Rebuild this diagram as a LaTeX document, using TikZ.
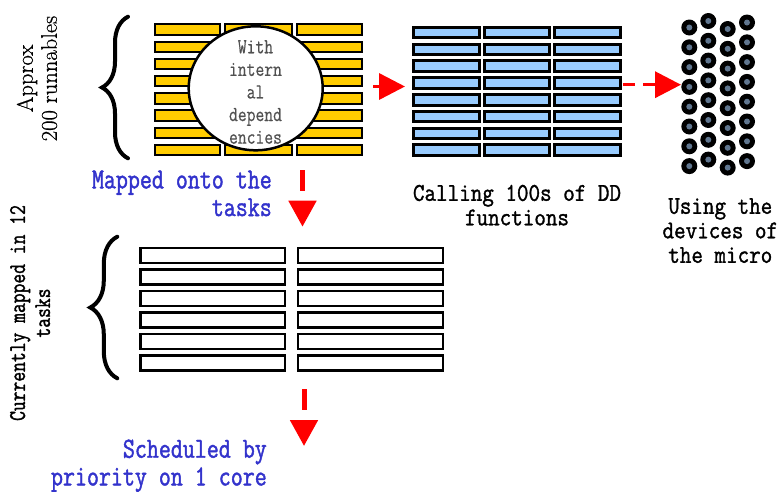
\documentclass[tikz,border=0pt]{standalone}
\usepackage{fontspec}
\usetikzlibrary{arrows.meta,shapes.geometric,decorations.pathreplacing}
\newfontfamily\monofont{Latin Modern Mono}[FakeBold=1.4,FakeStretch=0.8]
\newfontfamily\captionmono{Latin Modern Mono}[FakeBold=1.3,FakeStretch=0.88]
\newfontfamily\lightmono{Latin Modern Mono}[FakeBold=0.5,FakeStretch=0.8]
\newfontfamily\sidefont{Latin Modern Roman}[FakeBold=0.6]

\definecolor{arrowred}{RGB}{255,0,0}
\definecolor{labelblue}{RGB}{51,51,204}
\definecolor{baryellow}{RGB}{255,204,0}
\definecolor{barblue}{RGB}{153,204,255}
\definecolor{dotcore}{RGB}{96,118,143}
\definecolor{deptext}{RGB}{80,80,80}

\begin{document}
\begin{tikzpicture}[x=1pt,y=-1pt,
  yellowbar/.style={draw=black,line width=2pt,fill=baryellow},
  bluebar/.style={draw=black,line width=3pt,fill=barblue},
  taskbar/.style={draw=black,line width=2.5pt,fill=white},
  grp/.style={inner sep=0pt,outer sep=0pt,draw=none},
  bracestyle/.style={line width=4pt,line cap=round,decorate,decoration={brace,amplitude=#1}},
  dashright/.style={draw=arrowred,line width=3.5pt,dash pattern=on 12pt off 8pt,
    -{Triangle[length=26pt,width=26pt]}},
  dashdown/.style={draw=arrowred,line width=5pt,dash pattern=on 21pt off 10pt,
    -{Triangle[length=26pt,width=27pt]}},
  blacklabel/.style={font={\captionmono\fontsize{25.5}{24.5}\selectfont},align=center,inner sep=0pt},
  bluelabel/.style={font={\monofont\fontsize{29.1}{27.7}\selectfont},text=labelblue,align=right,inner sep=0pt},
  sidelabel/.style={rotate=90,align=center,inner sep=0pt}]

\useasboundingbox (0,0) rectangle (779,491);
\fill[white] (0,0) rectangle (779,491);

% runnables: 8 rows x 3 columns of yellow bars
\foreach \xa/\xb in {154.3/220.7,224.3/292.7,295.7/363.3}
  \foreach \r in {0,...,7}
    \path[yellowbar] ({\xa+1},{23.3+17.2*\r+1}) rectangle ({\xb-1},{23.3+17.2*\r+12.4-1});
\node[grp,minimum width=209pt,minimum height=132.8pt] (runnables) at (258.8,89.7) {};

% internal dependencies bubble
\node[ellipse,draw=black,line width=2.5pt,fill=white,minimum width=134pt,minimum height=124pt,inner sep=0pt] (deps) at (255.7,88.3) {};
\node[font={\lightmono\fontsize{21.4}{22.6}\selectfont},text=deptext,align=center,inner sep=0pt] (depstext) at (255.5,92) {With\\intern\\al\\depend\\encies};

% device driver functions: 8 rows x 3 columns of blue bars
\foreach \xa/\xb in {412.3/481,482.7/550.7,552.7/621.7}
  \foreach \r in {0,...,7}
    \path[bluebar] ({\xa+1.5},{25.7+16.8*\r+1.5}) rectangle ({\xb-1.5},{25.7+16.8*\r+13.6-1.5});
\node[grp,minimum width=209.4pt,minimum height=131.2pt] (ddgrid) at (517,91.3) {};

% micro devices: staggered columns of dots
\foreach \cx/\cy in {689.3/27.5,708.3/21,727.7/29,747/22.5}
  \foreach \r in {0,...,7} {
    \fill[black] (\cx,{\cy+19.8*\r}) circle (8pt);
    \fill[dotcore] (\cx,{\cy+19.8*\r}) circle (3pt);
  }
\node[grp,minimum width=74pt,minimum height=162pt] (devices) at (718,94) {};

% tasks: 6 rows x 2 columns of white bars
\foreach \xa/\xb in {139/286,296.7/444}
  \foreach \r in {0,...,5}
    \path[taskbar] ({\xa+1.25},{246.7+21.46*\r+1.25}) rectangle ({\xb-1.25},{246.7+21.46*\r+17.6-1.25});
\node[grp,minimum width=305pt,minimum height=125pt] (tasks) at (291.5,309.2) {};

% braces
\draw[bracestyle=26pt] (128,158.3) -- (128,16.7);
\draw[bracestyle=27pt] (117.3,378.3) -- (117.3,236.7);

% side labels
\node[sidelabel,font={\sidefont\fontsize{22.6}{24}\selectfont}] (approx) at (37,78.5) {Approx\\200 runnables};
\node[sidelabel,font={\monofont\fontsize{23.8}{25}\selectfont}] (mappedin) at (30.1,313) {Currently mapped in 12\\tasks};

% captions
\node[blacklabel,anchor=north] (calling) at (517,184.7) {Calling 100s of DD\\functions};
\node[blacklabel,anchor=north] (using) at (720.3,198) {Using the\\devices of\\the micro};
\node[bluelabel,anchor=north east] (mapped) at (272,170.4) {Mapped onto the\\tasks};
\node[bluelabel,anchor=north east] (sched) at (267,439.4) {Scheduled by\\priority on 1 core};

% arrows
\coordinate (a1s) at ([yshift=3.2pt]runnables.east);
\draw[dashright,shorten <=9.7pt,shorten >=7.3pt] (a1s) -- (a1s -| ddgrid.west);
\coordinate (a2s) at ([yshift=6.6pt]ddgrid.east);
\draw[dashright,shorten <=1.3pt] (a2s) -- (a2s -| devices.west);
\coordinate (m1) at (302.5,170);
\coordinate (m2) at (302.5,226.7);
\draw[dashdown] (m1) -- (m2);
\coordinate (s1) at (304,389.3);
\coordinate (s2) at (304,446);
\draw[dashdown] (s1) -- (s2);
\end{tikzpicture}
\end{document}
